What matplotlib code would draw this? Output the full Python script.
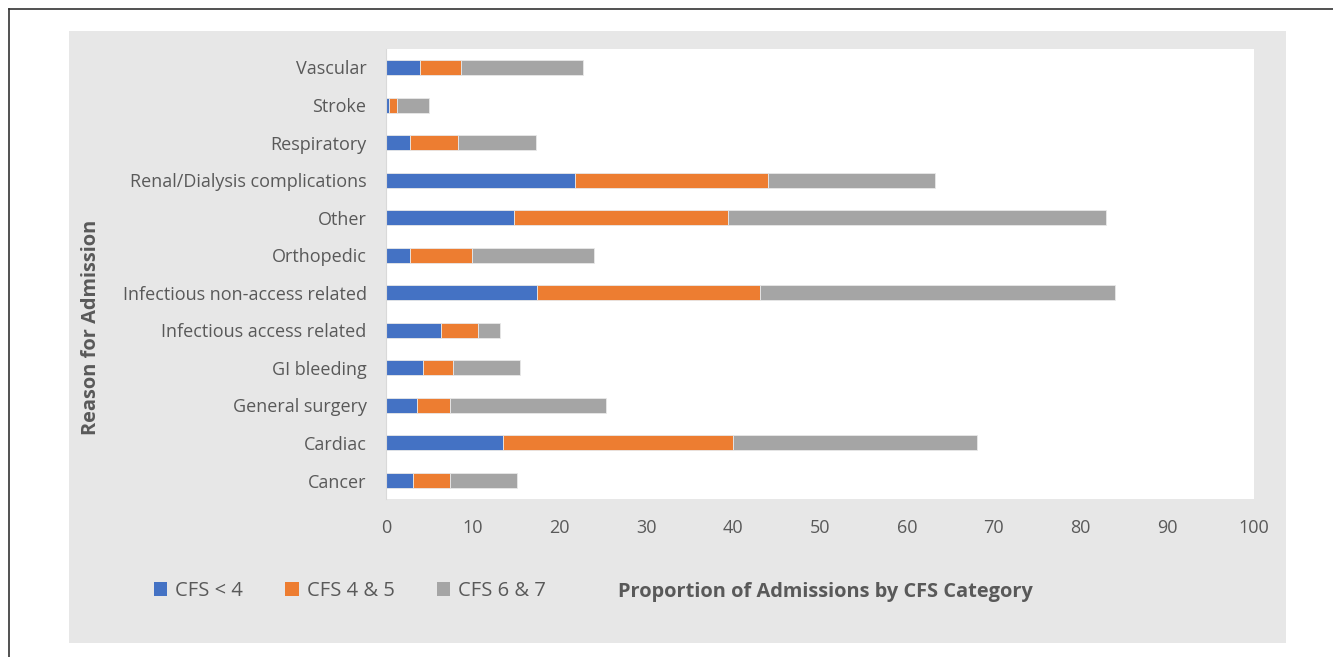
import matplotlib.pyplot as plt
from matplotlib.patches import Rectangle
from matplotlib.lines import Line2D
import numpy as np

plt.rcParams['font.family'] = ['Open Sans', 'DejaVu Sans']

razoes = ['Cancer', 'Cardiac', 'General surgery', 'GI bleeding', 'Infectious access related',
          'Infectious non-access related', 'Orthopedic', 'Other', 'Renal/Dialysis complications',
          'Respiratory', 'Stroke', 'Vascular']
cfs_menor4 = [3.15, 13.5, 3.6, 4.3, 6.3, 17.4, 2.75, 14.7, 21.8, 2.75, 0.35, 3.9]
cfs_4_5 = [4.25, 26.5, 3.8, 3.4, 4.3, 25.7, 7.2, 24.7, 22.2, 5.5, 0.95, 4.7]
cfs_6_7 = [7.7, 28.1, 17.9, 7.7, 2.5, 40.9, 14.05, 43.6, 19.3, 9.0, 3.7, 14.1]
legendas = ['CFS < 4', 'CFS 4 & 5', 'CFS 6 & 7']
cores = ['#4472C4', '#ED7D31', '#A5A5A5']

W, H = 1333, 657
fig = plt.figure(figsize=(W / 100, H / 100), dpi=100)

# painel cinza e moldura
fig.patches.append(Rectangle((69 / W, 1 - 643 / H), (1286 - 69) / W, (643 - 31) / H,
                             transform=fig.transFigure, facecolor='#E7E7E7', edgecolor='none', zorder=-5))
fig.lines.append(Line2D([9 / W, 9 / W], [0, 1 - 9 / H], transform=fig.transFigure, color='#333333', lw=1.2))
fig.lines.append(Line2D([9 / W, 1], [1 - 9 / H, 1 - 9 / H], transform=fig.transFigure, color='#333333', lw=1.2))

ax = fig.add_axes([386 / W, 1 - 499.3 / H, 868 / W, 450.6 / H])
ax.set_zorder(2)
ax.set_facecolor('white')

y = np.arange(len(razoes))
esquerda = np.zeros(len(razoes))
for valores, cor in zip([cfs_menor4, cfs_4_5, cfs_6_7], cores):
    ax.barh(y, valores, left=esquerda, height=0.4, color=cor, edgecolor='#E8E8E8', linewidth=0.6)
    esquerda += np.array(valores)

ax.set_xlim(0, 100)
ax.set_ylim(-0.5, len(razoes) - 0.5)
ax.set_xticks(range(0, 101, 10))
ax.set_yticks(y)
ax.set_yticklabels(razoes)
ax.tick_params(axis='both', length=0, labelsize=13, labelcolor='#595959')
ax.tick_params(axis='y', pad=14)
ax.tick_params(axis='x', pad=14)
for lado in ['top', 'right', 'bottom']:
    ax.spines[lado].set_visible(False)
ax.spines['left'].set_color('#D9D9D9')

fig.text(91 / W, 1 - 327 / H, 'Reason for Admission', rotation=90, ha='center', va='center',
         fontsize=14.4, fontweight='bold', color='#595959')
fig.text(825 / W, 1 - 592 / H, 'Proportion of Admissions by CFS Category', ha='center', va='center',
         fontsize=14.4, fontweight='bold', color='#595959')

alcas = [Rectangle((0, 0), 1, 1, facecolor=c) for c in cores]
fig.legend(alcas, legendas, loc='center left', bbox_to_anchor=(136 / W, 1 - 591 / H), ncol=3,
           frameon=False, fontsize=14.5, labelcolor='#595959', handlelength=0.65, handleheight=0.65,
           handletextpad=0.4, columnspacing=2.1)

plt.savefig('out.png', dpi=100)
